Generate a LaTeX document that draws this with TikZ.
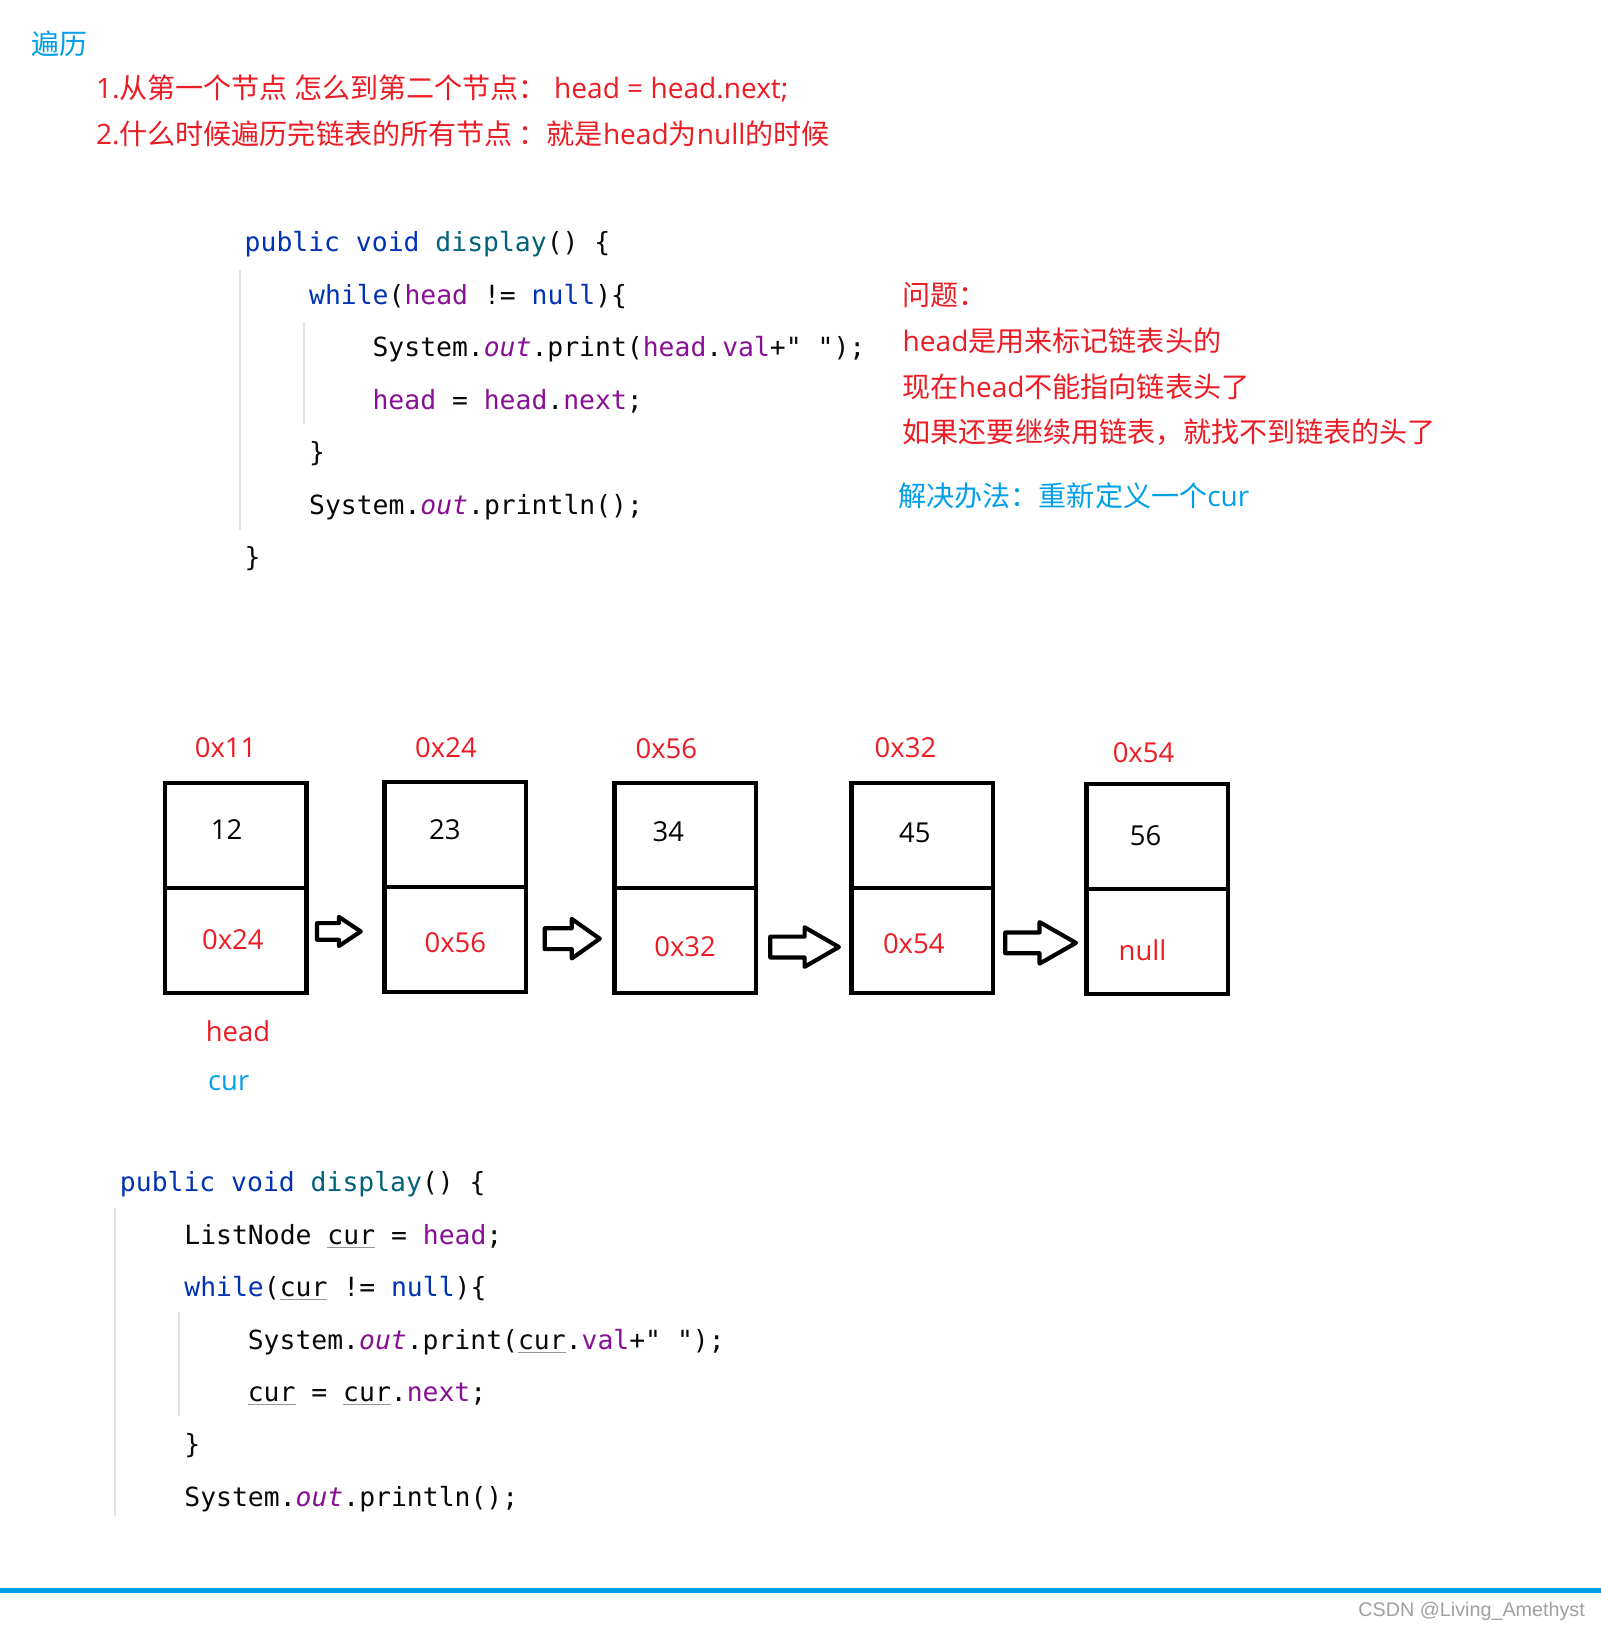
\documentclass[tikz,border=0pt]{standalone}
\usepackage{fontspec}
\setmainfont{Open Sans}
\setmonofont{DejaVu Sans Mono}
\newfontfamily\cjk{Noto Sans CJK SC}
\newfontfamily\wmfont{Liberation Sans}
\definecolor{hlred}{RGB}{236,28,36}
\definecolor{hlcyan}{RGB}{0,160,233}
\definecolor{kwcol}{HTML}{0033B3}
\definecolor{fncol}{HTML}{00627A}
\definecolor{fldcol}{HTML}{871094}
\definecolor{codetxt}{HTML}{080808}
\definecolor{ulgray}{RGB}{150,150,150}
\definecolor{guide}{RGB}{225,225,225}
\definecolor{wmgray}{RGB}{160,160,160}
\newcommand\kwd[1]{\textcolor{kwcol}{#1}}
\newcommand\fnm[1]{\textcolor{fncol}{#1}}
\newcommand\fld[1]{\textcolor{fldcol}{#1}}
\newcommand\fldi[1]{\textcolor{fldcol}{\itshape #1}}
\newcommand\ulc[1]{{\color{ulgray}\underline{\color{codetxt}#1}}}
\newcommand\blkarr[6]{%
  \draw[arrowshape] (#1,#3-#4) -- (#6,#3-#4) -- (#6,#3-#5) -- (#2,#3)
    -- (#6,#3+#5) -- (#6,#3+#4) -- (#1,#3+#4) -- cycle;}
\tikzset{
  txt/.style={inner sep=0pt, anchor=base west},
  note/.style={txt, font=\fontsize{13.5}{16}\selectfont},
  code/.style={txt, font=\ttfamily\fontsize{12.7}{15}\selectfont, text=codetxt},
  lbl/.style={inner sep=0pt, anchor=center, font=\fontsize{13.2}{15}\selectfont},
  box/.style={draw=black, line width=2.1pt, minimum width=68pt, minimum height=101pt, inner sep=0pt},
  arrowshape/.style={draw=black, fill=white, line width=2pt, line join=round},
  guideline/.style={draw=guide, line width=1pt},
}
\begin{document}
\begin{tikzpicture}[x=0.5pt,y=-0.5pt]
\useasboundingbox (0,0) rectangle (1540,1568);
\fill[white] (0,0) rectangle (1540,1568);

% heading
\node[note, text=hlcyan] (title) at (30,52) {\cjk 遍历};
\node[note, text=hlred] (l1) at (92,95) {1.{\cjk 从第一个节点 怎么到第二个节点：} head = head.next;};
\node[note, text=hlred] (l2) at (92,139) {2.{\cjk 什么时候遍历完链表的所有节点 ：就是}head{\cjk 为}null{\cjk 的时候}};

% code block 1
\draw[guideline] (231,260) -- (231,510);
\draw[guideline] (292,310) -- (292,408);
\node[code] (c1a) at (235,242) {\kwd{public void} \fnm{display}() \{};
\node[code] (c1b) at (297,293) {\kwd{while}(\fld{head} != \kwd{null})\{};
\node[code] (c1c) at (358,343) {System.\fldi{out}.print(\fld{head}.\fld{val}+" ");};
\node[code] (c1d) at (358,394) {\fld{head} = \fld{head}.\fld{next};};
\node[code] (c1e) at (297,444) {\}};
\node[code] (c1f) at (297,495) {System.\fldi{out}.println();};
\node[code] (c1g) at (235,545) {\}};

% notes on the right
\node[note, text=hlred] (q1) at (868,294) {\cjk 问题：};
\node[note, text=hlred] (q2) at (868,338) {head{\cjk 是用来标记链表头的}};
\node[note, text=hlred] (q3) at (868,382) {{\cjk 现在}head{\cjk 不能指向链表头了}};
\node[note, text=hlred] (q4) at (868,426) {\cjk 如果还要继续用链表，就找不到链表的头了};
\node[note, text=hlcyan] (q5) at (864,487) {{\cjk 解决办法：重新定义一个}cur};

% linked list boxes
\node[box] (b1) at (227,854) {};
\node[box] (b2) at (438,853) {};
\node[box] (b3) at (659,854) {};
\node[box] (b4) at (887,854) {};
\node[box] (b5) at (1113,855) {};
\foreach \b in {b1,b2,b3,b4,b5}{\draw[line width=2.1pt] (\b.west) -- (\b.east);}

\node[lbl, text=hlred] (a1) at (217,719) {0x11};
\node[lbl, text=hlred] (a2) at (429,719) {0x24};
\node[lbl, text=hlred] (a3) at (641,720) {0x56};
\node[lbl, text=hlred] (a4) at (871,719) {0x32};
\node[lbl, text=hlred] (a5) at (1100,724) {0x54};

\node[lbl, text=black] (v1) at (218,798) {12};
\node[lbl, text=black] (v2) at (428,798) {23};
\node[lbl, text=black] (v3) at (643,800) {34};
\node[lbl, text=black] (v4) at (880,801) {45};
\node[lbl, text=black] (v5) at (1102,804) {56};

\node[lbl, text=hlred] (n1) at (224,904) {0x24};
\node[lbl, text=hlred] (n2) at (438,907) {0x56};
\node[lbl, text=hlred] (n3) at (659,911) {0x32};
\node[lbl, text=hlred] (n4) at (879,908) {0x54};
\node[lbl, text=hlred] (n5) at (1099,914) {null};

\node[lbl, text=hlred] (hd) at (229,992) {head};
\node[lbl, text=hlcyan] (cr) at (220,1042) {cur};

% block arrows
\blkarr{305}{347}{896}{8}{14}{326}
\blkarr{524}{577}{903}{10}{19}{550}
\blkarr{741}{807}{911}{10}{19}{774}
\blkarr{967}{1035}{907}{10}{20}{1000}

% code block 2
\draw[guideline] (111,1162) -- (111,1458);
\draw[guideline] (172,1262) -- (172,1362);
\node[code] (c2a) at (115,1146) {\kwd{public void} \fnm{display}() \{};
\node[code] (c2b) at (177,1197) {ListNode \ulc{cur} = \fld{head};};
\node[code] (c2c) at (177,1247) {\kwd{while}(\ulc{cur} != \kwd{null})\{};
\node[code] (c2d) at (238,1298) {System.\fldi{out}.print(\ulc{cur}.\fld{val}+" ");};
\node[code] (c2e) at (238,1348) {\ulc{cur} = \ulc{cur}.\fld{next};};
\node[code] (c2f) at (177,1398) {\}};
\node[code] (c2g) at (177,1449) {System.\fldi{out}.println();};

% footer
\draw[draw=hlcyan, line width=2pt] (0,1530) -- (1540,1530);
\node[inner sep=0pt, anchor=base east, text=wmgray, font=\wmfont\fontsize{9.5}{12}\selectfont] (wm) at (1525,1555) {CSDN @Living\_Amethyst};
\end{tikzpicture}
\end{document}
